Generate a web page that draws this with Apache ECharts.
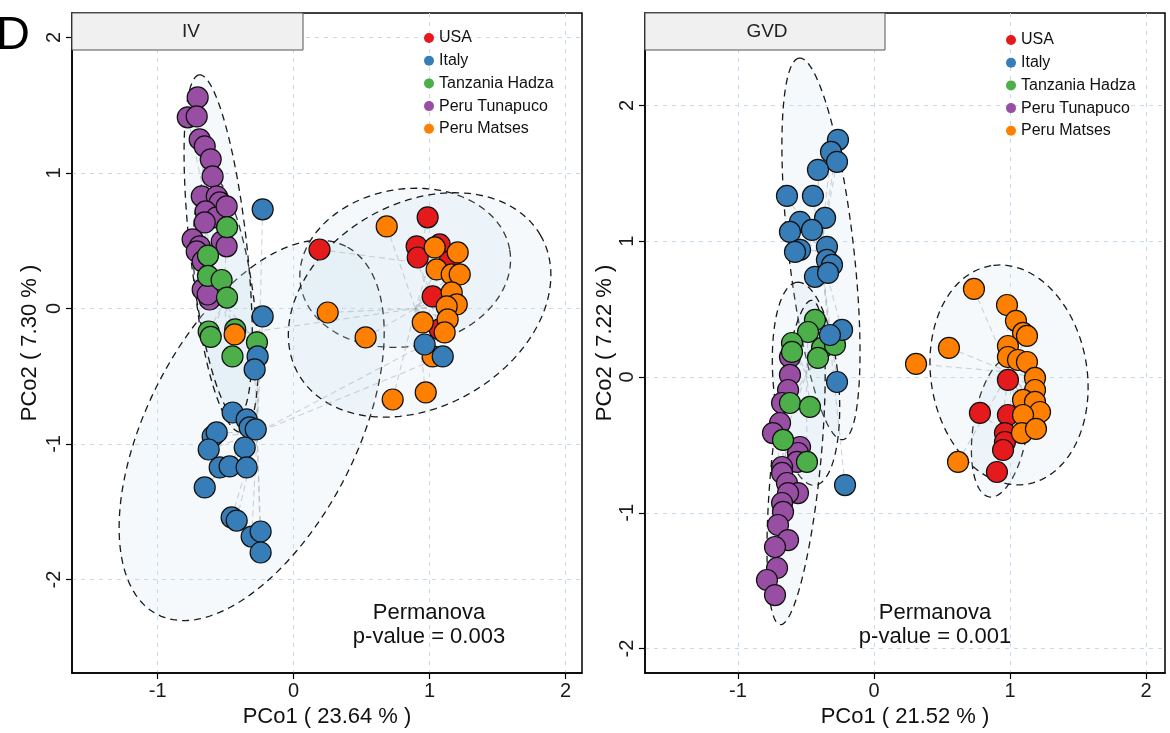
<!DOCTYPE html>
<html><head><meta charset="utf-8">
<script src="https://cdn.jsdelivr.net/npm/echarts@6/dist/echarts.min.js"></script>
<style>html,body{margin:0;padding:0;background:#fff}#c{width:1170px;height:733px}</style>
</head><body><div id="c"></div>
<script>
// ---------- DATA ----------
const groupNames = ['USA', 'Italy', 'Tanzania Hadza', 'Peru Tunapuco', 'Peru Matses'];
const xTicks = [-1, 0, 1, 2];
const yTicks = [-2, -1, 0, 1, 2];

// Panel IV
const ivUSA = [[0.19,0.435],[0.985,0.672],[0.904,0.458],[0.912,0.376],[1.074,0.472],[1.147,0.347],[1.022,0.089],[1.074,-0.155]];
const ivItaly = [[-0.228,0.731],[-0.228,-0.059],[-0.265,-0.354],[-0.287,-0.45],[-0.449,-0.768],[-0.346,-0.819],[-0.324,-0.878],[-0.279,-0.893],[-0.596,-0.945],[-0.566,-0.915],[-0.625,-1.041],[-0.36,-1.026],[-0.544,-1.173],[-0.471,-1.166],[-0.346,-1.173],[-0.654,-1.321],[-0.456,-1.542],[-0.419,-1.565],[-0.309,-1.683],[-0.243,-1.646],[-0.243,-1.801],[0.963,-0.266],[1.096,-0.354]];
const ivHadza = [[-0.49,0.6],[-0.63,0.39],[-0.63,0.24],[-0.53,0.21],[-0.49,0.08],[-0.625,-0.17],[-0.61,-0.21],[-0.43,-0.155],[-0.45,-0.354],[-0.27,-0.25]];
const ivTunapuco = [[-0.706,1.557],[-0.779,1.41],[-0.713,1.417],[-0.691,1.247],[-0.654,1.196],[-0.61,1.1],[-0.596,0.974],[-0.676,0.827],[-0.566,0.827],[-0.544,0.782],[-0.647,0.716],[-0.566,0.672],[-0.493,0.753],[-0.654,0.635],[-0.743,0.509],[-0.691,0.458],[-0.713,0.421],[-0.529,0.494],[-0.493,0.458],[-0.669,0.347],[-0.669,0.14],[-0.618,0.066],[-0.632,0.103]];
const ivMatses = [[0.684,0.605],[0.25,-0.03],[0.529,-0.214],[0.728,-0.672],[0.971,-0.62],[1.037,0.45],[1.206,0.413],[1.051,0.288],[1.162,0.251],[1.221,0.251],[1.162,0.118],[1.199,0.03],[1.125,0.015],[1.132,-0.081],[0.949,-0.103],[1.11,-0.177],[1.022,-0.354],[-0.434,-0.192]];
// ellipse params per group: [centerX, centerY, semiMajor, semiMinor, angleDeg]
const ivEllipses = [[0.82,0.30,0.78,0.58,10],[-0.309,-0.90,1.525,0.77,63],[-0.50,0.03,0.95,0.21,97],[-0.555,0.461,1.27,0.21,96.3],[0.926,0.026,1.027,0.75,30]];

// Panel GVD
const gvdUSA = [[0.985,-0.022],[0.779,-0.265],[0.985,-0.28],[0.963,-0.413],[0.963,-0.479],[0.949,-0.538],[0.904,-0.7]];
const gvdItaly = [[-0.265,1.746],[-0.316,1.657],[-0.272,1.584],[-0.412,1.525],[-0.64,1.333],[-0.449,1.333],[-0.36,1.171],[-0.544,1.142],[-0.618,1.068],[-0.456,1.083],[-0.544,0.936],[-0.581,0.921],[-0.346,0.958],[-0.346,0.862],[-0.309,0.825],[-0.434,0.737],[-0.338,0.766],[-0.235,0.346],[-0.324,0.309],[-0.272,-0.037],[-0.213,-0.796]];
const gvdHadza = [[-0.434,0.42],[-0.485,0.331],[-0.603,0.25],[-0.603,0.184],[-0.382,0.214],[-0.412,0.14],[-0.287,0.236],[-0.618,-0.192],[-0.471,-0.221],[-0.669,-0.464],[-0.493,-0.626]];
const gvdTunapuco = [[-0.618,0.147],[-0.618,0.015],[-0.632,-0.096],[-0.676,-0.192],[-0.691,-0.339],[-0.743,-0.413],[-0.544,-0.516],[-0.559,-0.56],[-0.566,-0.626],[-0.676,-0.663],[-0.676,-0.707],[-0.64,-0.781],[-0.559,-0.855],[-0.632,-0.855],[-0.676,-0.928],[-0.669,-0.994],[-0.706,-1.09],[-0.632,-1.201],[-0.728,-1.252],[-0.713,-1.407],[-0.787,-1.495],[-0.728,-1.606]];
const gvdMatses = [[0.735,0.648],[0.978,0.53],[1.044,0.413],[1.096,0.324],[1.125,0.302],[0.551,0.214],[0.309,0.096],[0.985,0.228],[0.985,0.147],[1.059,0.125],[1.125,0.11],[1.184,-0.007],[1.184,-0.096],[1.096,-0.169],[1.184,-0.184],[1.221,-0.258],[1.096,-0.28],[1.088,-0.413],[1.191,-0.383],[0.618,-0.626]];
const gvdEllipses = [[0.93,-0.37,0.52,0.2,81],[-0.39,0.943,1.414,0.24,96.5],[-0.50,-0.05,0.75,0.24,95],[-0.573,-0.63,1.2,0.18,84.4],[0.993,0.015,0.815,0.574,99.3]];

// ---------- STYLE ----------
const colors = ['#E41A1C', '#377EB8', '#4DAF4A', '#984EA3', '#FF7F00'];
const FONT = 'Liberation Sans, Arial, Helvetica, sans-serif';
const drawOrder = [0, 3, 2, 4, 1];

function centroid(pts) {
  let sx = 0, sy = 0;
  pts.forEach(p => { sx += p[0]; sy += p[1]; });
  return [sx / pts.length, sy / pts.length];
}

function panelSeries(groups, ellipses, idx) {
  const out = [];
  out.push({
    type: 'custom', name: 'ell' + idx, xAxisIndex: idx, yAxisIndex: idx, z: 1, silent: true,
    clip: true, data: ellipses, encode: { x: 0, y: 1 },
    renderItem: function (params, api) {
      const cx = api.value(0), cy = api.value(1), a = api.value(2), b = api.value(3);
      const th = api.value(4) * Math.PI / 180;
      const pts = [];
      for (let i = 0; i < 160; i++) {
        const t = i / 160 * 2 * Math.PI;
        const x = cx + a * Math.cos(th) * Math.cos(t) - b * Math.sin(th) * Math.sin(t);
        const y = cy + a * Math.sin(th) * Math.cos(t) + b * Math.cos(th) * Math.sin(t);
        pts.push(api.coord([x, y]));
      }
      return { type: 'polygon', shape: { points: pts },
        style: { fill: 'rgba(195,220,240,0.17)', stroke: '#1a1a1a', lineWidth: 1.3, lineDash: [7, 5] } };
    }
  });
  const spider = [];
  groups.forEach(g => {
    const c = centroid(g);
    g.forEach(p => spider.push([p[0], p[1], c[0], c[1]]));
  });
  out.push({
    type: 'custom', name: 'spider' + idx, xAxisIndex: idx, yAxisIndex: idx, z: 2, silent: true,
    clip: true, data: spider, encode: { x: 0, y: 1 },
    renderItem: function (params, api) {
      const p1 = api.coord([api.value(0), api.value(1)]);
      const p2 = api.coord([api.value(2), api.value(3)]);
      return { type: 'line', shape: { x1: p1[0], y1: p1[1], x2: p2[0], y2: p2[1] },
        style: { stroke: 'rgba(150,160,170,0.45)', lineWidth: 1.1, lineDash: [6, 4] } };
    }
  });
  drawOrder.forEach(gi => {
    out.push({
      type: 'scatter', name: groupNames[gi], xAxisIndex: idx, yAxisIndex: idx, z: 3,
      data: groups[gi], symbol: 'circle', symbolSize: 21,
      itemStyle: { color: colors[gi], borderColor: '#111', borderWidth: 1.2, opacity: 1 },
      emphasis: { disabled: true }
    });
  });
  return out;
}

function xAxisCfg(idx, min, max, name) {
  return {
    gridIndex: idx, type: 'value', min: min, max: max,
    axisLine: { show: true, onZero: false, lineStyle: { color: '#000', width: 1.5 } },
    axisTick: { show: true, length: 6, customValues: xTicks, lineStyle: { color: '#000', width: 1.2 } },
    axisLabel: { customValues: xTicks, fontSize: 20, color: '#1a1a1a', margin: 8, fontFamily: FONT },
    splitLine: { show: true, lineStyle: { color: '#c6dbee', type: [4, 5], width: 1 } },
    name: name, nameLocation: 'middle', nameGap: 33,
    nameTextStyle: { fontSize: 22, color: '#111', fontFamily: FONT }
  };
}
function yAxisCfg(idx, min, max, name, gap) {
  return {
    gridIndex: idx, type: 'value', min: min, max: max,
    axisLine: { show: true, onZero: false, lineStyle: { color: '#000', width: 1.5 } },
    axisTick: { show: true, length: 6, customValues: yTicks, lineStyle: { color: '#000', width: 1.2 } },
    axisLabel: { customValues: yTicks, rotate: 90, fontSize: 20, color: '#1a1a1a', margin: 8, fontFamily: FONT },
    splitLine: { show: true, lineStyle: { color: '#c6dbee', type: [4, 5], width: 1 } },
    name: name, nameLocation: 'middle', nameGap: gap,
    nameTextStyle: { fontSize: 22, color: '#111', fontFamily: FONT }
  };
}

function legendCfg(left, top) {
  return {
    data: groupNames, orient: 'vertical', left: left, top: top, icon: 'circle',
    itemWidth: 10, itemHeight: 10, itemGap: 6.7, selectedMode: false,
    itemStyle: { borderWidth: 0 },
    textStyle: { fontSize: 16, lineHeight: 16, color: '#111', fontFamily: FONT }
  };
}

const chart = echarts.init(document.getElementById('c'), null, { renderer: 'canvas' });
chart.setOption({
  animation: false,
  backgroundColor: '#fff',
  textStyle: { fontFamily: FONT },
  grid: [
    { left: 72, top: 13, width: 510, height: 660, show: true, borderColor: '#000', borderWidth: 1.5, backgroundColor: '#fff' },
    { left: 645, top: 13, width: 520, height: 660, show: true, borderColor: '#000', borderWidth: 1.5, backgroundColor: '#fff' }
  ],
  xAxis: [xAxisCfg(0, -1.63, 2.12, 'PCo1 ( 23.64 % )'), xAxisCfg(1, -1.684, 2.14, 'PCo1 ( 21.52 % )')],
  yAxis: [yAxisCfg(0, -2.69, 2.18, 'PCo2 ( 7.30 % )', 31), yAxisCfg(1, -2.18, 2.68, 'PCo2 ( 7.22 % )', 26)],
  legend: [legendCfg(419, 25), legendCfg(1001, 27)],
  series: [].concat(
    panelSeries([ivUSA, ivItaly, ivHadza, ivTunapuco, ivMatses], ivEllipses, 0),
    panelSeries([gvdUSA, gvdItaly, gvdHadza, gvdTunapuco, gvdMatses], gvdEllipses, 1)
  ),
  graphic: [
    { type: 'text', x: -4, y: 36, z: 200, style: { text: 'D', fontSize: 47, fontFamily: FONT, fill: '#000', align: 'left', verticalAlign: 'middle' } },
    { type: 'rect', z: 100, shape: { x: 72, y: 13, width: 231, height: 37 }, style: { fill: '#f0f0f0', stroke: '#555', lineWidth: 1 } },
    { type: 'text', z: 101, x: 191, y: 32, style: { text: 'IV', fontSize: 19, fontFamily: FONT, fill: '#222', align: 'center', verticalAlign: 'middle' } },
    { type: 'rect', z: 100, shape: { x: 645, y: 13, width: 240, height: 37 }, style: { fill: '#f0f0f0', stroke: '#555', lineWidth: 1 } },
    { type: 'text', z: 101, x: 767, y: 32, style: { text: 'GVD', fontSize: 19, fontFamily: FONT, fill: '#222', align: 'center', verticalAlign: 'middle' } },
    { type: 'text', z: 101, x: 429, y: 625, style: { text: 'Permanova\np-value = 0.003', fontSize: 22, lineHeight: 24, fontFamily: FONT, fill: '#111', align: 'center', verticalAlign: 'middle' } },
    { type: 'text', z: 101, x: 935, y: 625, style: { text: 'Permanova\np-value = 0.001', fontSize: 22, lineHeight: 24, fontFamily: FONT, fill: '#111', align: 'center', verticalAlign: 'middle' } }
  ]
});
</script></body></html>
